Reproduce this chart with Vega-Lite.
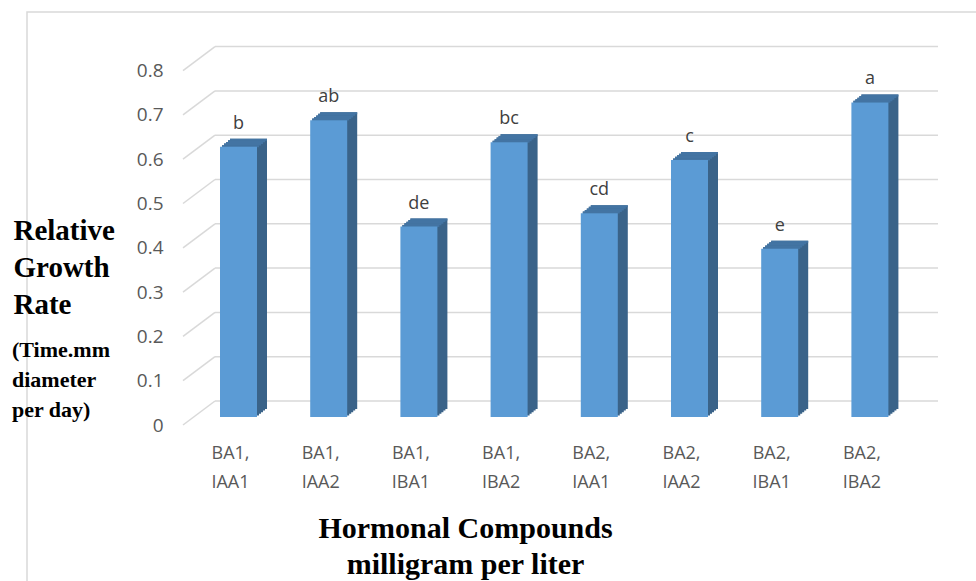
{
  "$schema": "https://vega.github.io/schema/vega-lite/v6.json",
  "width": 960,
  "height": 580,
  "autosize": "none",
  "padding": {"left": 27, "top": 12, "right": 0, "bottom": 0},
  "background": "white",
  "config": {"view": {"stroke": "#d9d9d9", "strokeWidth": 1.5}, "font": "Open Sans"},
  "title": {
    "text": ["(Time.mm", "diameter", "per day)"],
    "orient": "top", "anchor": "start", "frame": "group", "align": "left", "baseline": "alphabetic",
    "dx": -15, "dy": 427, "offset": 0,
    "fontSize": 22, "font": "Liberation Serif", "fontWeight": "bold", "color": "#000000", "lineHeight": 30
  },
  "datasets": {
    "bars": [
      {"c": "BA1, IAA1", "v": 0.61, "g": "b"},
      {"c": "BA1, IAA2", "v": 0.67, "g": "ab"},
      {"c": "BA1, IBA1", "v": 0.43, "g": "de"},
      {"c": "BA1, IBA2", "v": 0.62, "g": "bc"},
      {"c": "BA2, IAA1", "v": 0.46, "g": "cd"},
      {"c": "BA2, IAA2", "v": 0.58, "g": "c"},
      {"c": "BA2, IBA1", "v": 0.38, "g": "e"},
      {"c": "BA2, IBA2", "v": 0.71, "g": "a"}
    ],
    "grid": [{"v": 0}, {"v": 0.1}, {"v": 0.2}, {"v": 0.3}, {"v": 0.4}, {"v": 0.5}, {"v": 0.6}, {"v": 0.7}, {"v": 0.8}]
  },
  "data": {"name": "bars"},
  "encoding": {
    "x": {"field": "c", "type": "nominal", "sort": null,
      "scale": {"range": [166.4, 888], "paddingInner": 0, "paddingOuter": 0},
      "axis": {"orient": "bottom", "offset": -175, "labelPadding": 27, "labelOffset": -8, "labelFontSize": 18, "labelColor": "#595959", "labelFont": "Open Sans",
        "labelExpr": "split(datum.value, ' ')", "labelLineHeight": 29, "labelBaseline": "top", "labelAngle": 0, "labelOverlap": false,
        "domain": false, "ticks": false, "grid": false,
        "title": ["Hormonal Compounds", "milligram per liter"], "titleX": 438, "titleY": 120, "titleAlign": "center", "titleBaseline": "alphabetic",
        "titleLineHeight": 36, "titleFontSize": 30, "titleFont": "Liberation Serif", "titleFontWeight": "bold", "titleColor": "#000000"}},
    "y": {"field": "v", "type": "quantitative",
      "scale": {"domain": [0, 0.8], "range": [405, 50.6], "nice": false, "zero": true},
      "axis": {"orient": "left", "offset": -156, "values": [0, 0.1, 0.2, 0.3, 0.4, 0.5, 0.6, 0.7, 0.8], "format": ".1~f",
        "labelPadding": 20, "labelOffset": 8, "labelFontSize": 19, "labelColor": "#595959", "labelFont": "Open Sans", "labelOverlap": false,
        "domain": false, "ticks": false, "grid": false,
        "title": ["Relative", "Growth", "Rate"], "titleFont": "Liberation Serif", "titleFontWeight": "bold", "titleFontSize": 29, "titleColor": "#000000",
        "titleAngle": 0, "titleAlign": "left", "titleBaseline": "alphabetic", "titleX": -170, "titleY": 227, "titleLineHeight": 37}}
  },
  "layer": [
    {"data": {"name": "grid"}, "mark": {"type": "rule", "color": "#d9d9d9", "strokeWidth": 1.5, "yOffset": -16},
     "encoding": {"x": {"value": 188}, "x2": {"value": 911}}},
    {"data": {"name": "grid"}, "mark": {"type": "rule", "color": "#d9d9d9", "strokeWidth": 1.5, "yOffset": 8, "y2Offset": -16},
     "encoding": {"y2": {"field": "v"}, "x": {"value": 156}, "x2": {"value": 188}}},
    {"mark": {"type": "bar", "color": "#3a6389", "width": 37, "xOffset": 2, "yOffset": -1.6, "y2Offset": -1.6}, "encoding": {"y2": {"datum": 0}}},
    {"mark": {"type": "bar", "color": "#3a6389", "width": 37, "xOffset": 4, "yOffset": -3.2, "y2Offset": -3.2}, "encoding": {"y2": {"datum": 0}}},
    {"mark": {"type": "bar", "color": "#3a6389", "width": 37, "xOffset": 6, "yOffset": -4.8, "y2Offset": -4.8}, "encoding": {"y2": {"datum": 0}}},
    {"mark": {"type": "bar", "color": "#3a6389", "width": 37, "xOffset": 8, "yOffset": -6.4, "y2Offset": -6.4}, "encoding": {"y2": {"datum": 0}}},
    {"mark": {"type": "bar", "color": "#3a6389", "width": 37, "xOffset": 10, "yOffset": -8, "y2Offset": -8}, "encoding": {"y2": {"datum": 0}}},
    {"mark": {"type": "bar", "color": "#4374a3", "width": 37, "xOffset": 2, "yOffset": -1.6, "y2Offset": 0.4}, "encoding": {"y2": {"field": "v"}}},
    {"mark": {"type": "bar", "color": "#4374a3", "width": 37, "xOffset": 4, "yOffset": -3.2, "y2Offset": -1.2}, "encoding": {"y2": {"field": "v"}}},
    {"mark": {"type": "bar", "color": "#4374a3", "width": 37, "xOffset": 6, "yOffset": -4.8, "y2Offset": -2.8}, "encoding": {"y2": {"field": "v"}}},
    {"mark": {"type": "bar", "color": "#4374a3", "width": 37, "xOffset": 8, "yOffset": -6.4, "y2Offset": -4.4}, "encoding": {"y2": {"field": "v"}}},
    {"mark": {"type": "bar", "color": "#4374a3", "width": 37, "xOffset": 10, "yOffset": -8, "y2Offset": -6}, "encoding": {"y2": {"field": "v"}}},
    {"mark": {"type": "bar", "color": "#5b9bd5", "width": 37}, "encoding": {"y2": {"datum": 0}}},
    {"mark": {"type": "text", "dy": -18, "baseline": "alphabetic", "fontSize": 18, "color": "#404040", "font": "Open Sans"},
     "encoding": {"text": {"field": "g"}}}
  ]
}
